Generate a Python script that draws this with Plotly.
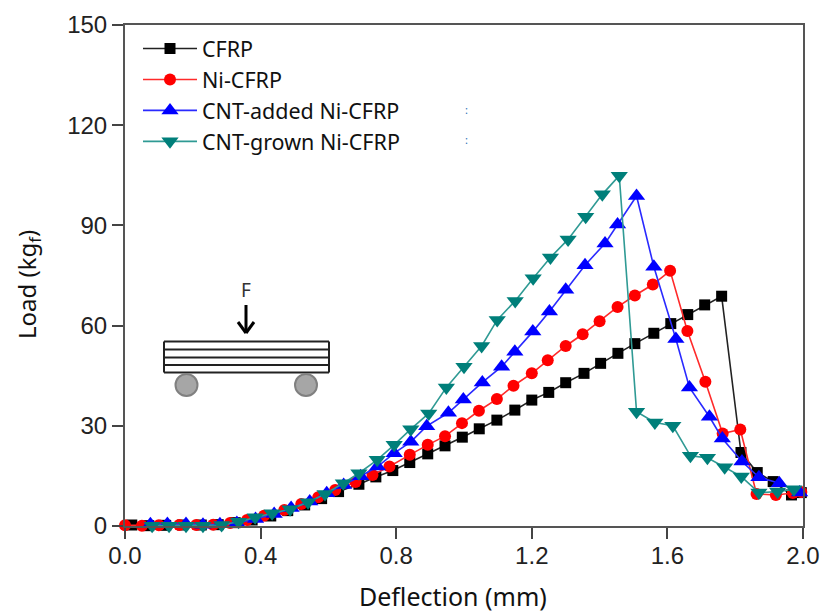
import plotly.graph_objects as go

cfrp_x = [0.02,0.07,0.12,0.17,0.225,0.275,0.325,0.375,0.43,0.48,0.53,0.58,0.63,0.69,0.74,0.79,0.84,0.893,0.944,0.995,1.045,1.097,1.15,1.20,1.25,1.30,1.354,1.403,1.454,1.504,1.56,1.61,1.66,1.71,1.76,1.817,1.865,1.912,1.966,1.995]
cfrp_y = [0.3,0.1,0.2,0.3,0.3,0.4,1.0,1.8,3.0,4.6,6.3,8.2,10.3,12.5,14.7,16.6,19.0,21.6,24.0,26.6,29.1,31.7,34.7,37.7,40.0,42.9,45.7,48.7,51.7,54.6,57.7,60.6,63.3,66.2,68.8,22.0,16.0,13.3,9.3,10.0]
ni_x = [0.0,0.05,0.1,0.16,0.21,0.26,0.31,0.36,0.41,0.47,0.52,0.57,0.62,0.68,0.73,0.78,0.84,0.893,0.944,0.994,1.044,1.097,1.146,1.20,1.247,1.30,1.35,1.40,1.453,1.504,1.557,1.608,1.659,1.712,1.763,1.815,1.863,1.92,1.97,1.995]
ni_y = [0.2,0.1,0.2,0.3,0.3,0.4,0.9,1.8,3.1,4.8,6.6,8.6,10.8,13.2,15.3,17.8,21.3,24.3,26.9,30.8,34.5,38.0,42.0,45.7,49.6,53.9,57.4,61.3,65.6,69.0,72.3,76.4,58.4,43.2,27.7,28.9,9.6,9.3,9.9,10.2]
added_x = [0.075,0.125,0.18,0.23,0.28,0.33,0.385,0.44,0.49,0.545,0.595,0.645,0.695,0.745,0.794,0.843,0.89,0.954,0.998,1.054,1.111,1.15,1.203,1.252,1.30,1.357,1.416,1.453,1.509,1.56,1.625,1.665,1.724,1.762,1.82,1.87,1.93,1.99]
added_y = [0.5,0.6,0.6,0.4,0.5,0.9,2.1,3.6,5.4,7.3,9.8,12.3,14.9,17.8,21.8,25.2,29.9,33.9,37.9,43.0,47.7,52.2,58.2,64.2,70.7,78.1,84.6,90.3,98.8,77.6,56.0,41.5,32.7,26.2,19.3,14.6,12.8,10.0]
grown_x = [0.08,0.13,0.18,0.23,0.285,0.335,0.384,0.434,0.487,0.54,0.59,0.644,0.69,0.744,0.794,0.843,0.896,0.948,1.0,1.052,1.098,1.151,1.204,1.255,1.307,1.359,1.408,1.458,1.509,1.563,1.616,1.668,1.718,1.769,1.818,1.87,1.925,1.973]
grown_y = [0.1,0.1,0.1,0.1,0.3,1.3,2.6,3.8,5.0,7.1,9.6,12.8,15.8,19.8,24.3,29.0,33.7,41.5,47.7,53.9,61.7,67.4,74.2,80.4,85.8,92.6,99.3,104.9,34.2,31.0,30.0,21.0,20.4,17.6,14.8,10.0,10.3,11.0]

x_ticks = [0.0,0.4,0.8,1.2,1.6,2.0]
y_ticks = [0,30,60,90,120,150]

series = [
    ("CFRP", cfrp_x, cfrp_y, "#222222", "#000000", "square", 11),
    ("Ni-CFRP", ni_x, ni_y, "#ff2a2a", "#ff0000", "circle", 12),
    ("CNT-added Ni-CFRP", added_x, added_y, "#2a2aff", "#0000ff", "triangle-up", 15),
    ("CNT-grown Ni-CFRP", grown_x, grown_y, "#2f9a94", "#007f7a", "triangle-down", 15),
]

fig = go.Figure()
for name, xs, ys, lc, mc, sym, sz in series:
    fig.add_trace(go.Scatter(x=xs, y=ys, name=name, mode="lines+markers", legendgroup=name,
                             line=dict(color=lc, width=1.6),
                             marker=dict(color=mc, symbol=sym, size=sz, line=dict(width=0)),
                             cliponaxis=False))

L, R, T, B = 125, 803, 25, 526
def px(v): return (v - L) / (R - L)
def py(v): return (B - v) / (B - T)
dark = "#222222"
shapes = []
for yy in (341.5, 349.5, 357.5, 365, 372.5):
    shapes.append(dict(type="line", xref="paper", yref="paper", x0=px(164), x1=px(329), y0=py(yy), y1=py(yy),
                       line=dict(color=dark, width=2)))
for xx in (164, 329):
    shapes.append(dict(type="line", xref="paper", yref="paper", x0=px(xx), x1=px(xx), y0=py(341.5), y1=py(372.5),
                       line=dict(color=dark, width=2)))
for cx in (186.5, 306):
    shapes.append(dict(type="circle", xref="paper", yref="paper", x0=px(cx-11), x1=px(cx+11), y0=py(385+11), y1=py(385-11),
                       fillcolor="#a6a6a6", line=dict(color="#808080", width=2)))
for x0, y0, x1, y1 in ((246, 305, 246, 333), (238, 322, 246, 333), (254, 322, 246, 333)):
    shapes.append(dict(type="line", xref="paper", yref="paper", x0=px(x0), x1=px(x1), y0=py(y0), y1=py(y1),
                       line=dict(color="#000000", width=3)))

centered = dict(xref="paper", yref="paper", showarrow=False, xanchor="center", yanchor="middle")
annotations = [
    dict(x=px(246), y=py(290), text="F", font=dict(family="Noto Sans", size=19, color="#333333"), **centered),
    dict(x=px(466), y=py(109), text=":", font=dict(family="Noto Sans", size=11, color="#2a6fb5"), **centered),
    dict(x=px(466), y=py(139), text=":", font=dict(family="Noto Sans", size=11, color="#2a6fb5"), **centered),
    dict(x=px(453), y=py(596), text="Deflection (mm)", font=dict(family="Noto Sans", size=25, color="#111111"), **centered),
    dict(x=px(28), y=py(285), text="Load (kg<sub>f</sub>)", textangle=-90,
         font=dict(family="Noto Sans", size=24, color="#111111"), **centered),
]

axis_common = dict(showgrid=False, zeroline=False, showline=True, mirror=True, linecolor="#555555", linewidth=2,
                   ticks="outside", ticklen=11, tickwidth=2, tickcolor="#444444", automargin=False,
                   tickfont=dict(family="Liberation Sans", size=24, color="#222222"))

fig.update_layout(
    width=823, height=615, autosize=False,
    margin=dict(l=L, r=823-R, t=T, b=615-B),
    paper_bgcolor="white", plot_bgcolor="white",
    xaxis=dict(range=[0, 2], tickvals=x_ticks, ticktext=[f"{t:.1f}" for t in x_ticks], ticklabelstandoff=-4, **axis_common),
    yaxis=dict(range=[0, 150], tickvals=y_ticks, **axis_common),
    legend=dict(x=px(138), y=py(28), xanchor="left", yanchor="top", bgcolor="rgba(0,0,0,0)",
                font=dict(family="Noto Sans", size=21.5, color="#111111"),
                itemwidth=54, tracegroupgap=1, traceorder="normal"),
    shapes=shapes, annotations=annotations,
)
fig.write_html("out.html", config={"displayModeBar": False},
               post_script="document.body.style.margin='0';document.documentElement.style.overflow='hidden';")
